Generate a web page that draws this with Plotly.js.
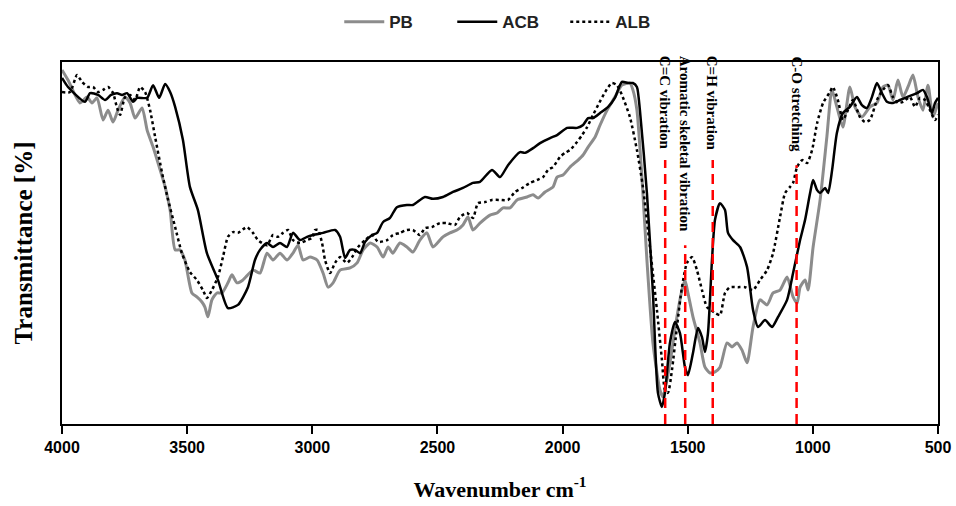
<!DOCTYPE html>
<html>
<head>
<meta charset="utf-8">
<script src="https://cdn.plot.ly/plotly-3.0.1.min.js"></script>
<style>html,body{margin:0;padding:0;background:#fff}#chart{width:956px;height:506px}</style>
</head>
<body>
<div id="chart"></div>
<script>
// ---- Data (wavenumber in cm-1, transmittance in arbitrary %) ----
const pbWavenumber = [4000,3976,3928,3900,3880,3860,3836,3816,3796,3776,3748,3728,3708,3680,3660,3636,3608,3588,3568,3548,3529,3509,3481,3461,3441,3429,3417,3401,3381,3361,3337,3321,3301,3277,3237,3209,3181,3157,3129,3101,3077,3057,3037,3009,2981,2957,2937,2917,2889,2849,2821,2797,2769,2741,2717,2697,2678,2650,2622,2598,2570,2542,2518,2478,2450,2422,2398,2378,2358,2330,2290,2262,2238,2210,2182,2142,2118,2098,2070,2038,2022,1998,1970,1938,1918,1898,1870,1850,1822,1791,1763,1731,1719,1703,1683,1663,1639,1611,1599,1583,1563,1543,1523,1511,1499,1479,1451,1431,1411,1391,1371,1343,1323,1303,1283,1263,1239,1211,1183,1159,1131,1103,1079,1063,1051,1031,1019,999,971,944,924,904,880,852,832,804,772,744,720,700,680,660,640,620,600,580,560,540,520,500];
const pbTransmittance = [97.8,95.0,88.7,90.3,88.7,90.1,84.0,86.7,83.4,86.7,90.3,88.7,84.5,87.3,81.2,76.5,70.2,65.5,59.1,48.1,48.1,45.3,36.2,35.1,33.7,32.3,29.6,34.3,36.2,36.2,39.0,41.2,39.0,39.8,42.5,41.7,47.2,45.3,47.2,45.3,47.2,49.4,45.3,46.1,45.3,41.7,37.8,39.0,42.5,43.1,44.5,48.1,50.0,48.9,46.1,48.9,47.2,50.0,48.9,47.5,50.8,52.8,48.9,51.7,52.8,53.6,55.0,57.2,53.6,55.5,57.7,58.3,59.7,59.7,61.9,62.7,63.3,62.4,64.1,65.5,68.2,68.8,71.0,72.9,74.3,76.5,79.3,82.6,86.7,90.3,93.6,94.2,92.3,86.7,68.2,45.3,22.4,9.4,7.5,12.2,20.4,29.6,37.0,39.8,36.2,29.6,22.4,15.7,14.1,14.4,15.7,22.4,21.3,22.4,20.4,16.9,26.8,34.3,32.9,36.2,37.0,40.6,35.1,33.4,37.8,39.8,37.0,48.9,61.9,79.3,92.3,87.6,82.0,93.1,87.6,84.8,87.6,88.7,93.1,93.6,89.5,95.0,90.3,93.1,96.4,90.3,86.7,93.6,84.8,88.7];

const acbWavenumber = [4000,3976,3908,3888,3856,3828,3804,3780,3760,3740,3716,3700,3660,3636,3612,3588,3568,3548,3517,3489,3457,3421,3377,3337,3297,3257,3229,3209,3181,3157,3129,3101,3077,3049,3021,2997,2957,2909,2889,2869,2849,2829,2809,2789,2761,2741,2717,2690,2662,2622,2598,2550,2518,2478,2438,2398,2358,2330,2282,2250,2218,2170,2150,2118,2090,2050,2022,1982,1942,1918,1898,1878,1850,1818,1791,1763,1739,1719,1703,1691,1663,1639,1619,1603,1591,1571,1551,1531,1511,1499,1479,1459,1443,1431,1419,1403,1391,1371,1351,1339,1319,1291,1263,1239,1219,1191,1163,1139,1103,1079,1051,1031,1011,999,983,971,951,939,923,904,880,852,824,804,784,764,744,724,704,680,652,624,584,560,544,524,512,500];
const acbTransmittance = [95.6,93.1,89.0,91.4,90.9,89.5,90.9,91.4,90.9,91.4,89.0,90.1,90.1,93.6,90.1,93.9,91.7,87.6,78.5,65.5,59.1,47.2,39.8,32.0,32.9,37.8,45.3,48.1,50.0,48.9,50.0,48.9,52.8,50.8,51.7,52.2,52.8,53.6,51.7,45.9,48.1,48.1,47.2,50.3,52.2,52.8,55.8,56.9,59.9,60.5,60.5,62.7,62.2,62.7,64.1,65.2,66.6,66.9,70.2,68.2,71.5,75.1,74.9,76.2,77.6,79.0,79.8,81.8,81.8,82.6,84.5,84.5,85.9,87.6,90.1,94.5,94.2,94.2,93.1,86.7,63.8,36.2,8.6,4.7,8.6,22.4,28.2,25.1,15.7,13.5,19.6,26.5,24.0,19.9,25.1,45.3,56.4,61.0,59.1,52.8,50.8,48.9,43.4,31.5,26.8,28.7,26.8,29.6,34.3,41.7,50.8,56.4,63.8,67.4,64.6,63.8,65.2,63.8,70.2,80.4,85.9,87.6,90.3,88.1,87.3,90.3,94.2,91.4,89.0,88.7,89.5,90.3,91.4,92.3,90.3,85.9,88.7,90.1];

const albWavenumber = [4000,3968,3940,3920,3896,3876,3856,3836,3816,3796,3780,3768,3748,3728,3708,3688,3668,3648,3628,3600,3576,3548,3521,3489,3461,3437,3421,3401,3377,3357,3337,3317,3297,3261,3237,3217,3181,3157,3137,3117,3097,3077,3049,3021,3001,2989,2977,2961,2949,2929,2909,2889,2861,2841,2817,2789,2761,2737,2701,2678,2650,2622,2598,2570,2550,2522,2490,2462,2430,2410,2382,2358,2338,2310,2282,2250,2218,2190,2162,2130,2102,2078,2058,2038,2010,1990,1970,1942,1922,1902,1878,1858,1830,1803,1783,1763,1731,1703,1679,1651,1623,1603,1591,1579,1563,1543,1523,1503,1483,1463,1443,1423,1391,1371,1351,1331,1299,1271,1239,1211,1183,1159,1131,1111,1091,1079,1063,1043,1023,1003,983,959,932,920,900,880,860,840,812,792,772,744,720,700,680,660,640,612,592,572,552,532,512,500];
const albTransmittance = [91.7,91.7,96.4,94.5,93.1,93.1,91.7,92.3,93.1,91.4,87.3,85.4,90.3,90.9,89.5,93.1,91.7,86.7,79.3,69.3,61.9,54.4,47.2,42.0,39.8,37.0,34.8,37.0,40.6,46.1,51.7,53.0,52.8,54.4,52.8,50.8,49.4,52.2,51.7,52.8,53.6,50.8,50.0,50.8,51.4,53.6,53.6,50.0,45.3,41.7,44.5,46.1,44.5,46.1,48.9,50.8,52.2,50.3,50.8,52.2,52.8,53.6,53.6,52.2,54.1,54.4,55.5,55.5,55.0,57.2,58.3,56.9,61.0,61.3,61.9,61.9,61.9,64.1,65.2,66.6,67.4,68.2,70.2,71.0,73.8,74.9,75.7,77.9,79.8,82.0,85.4,88.1,91.7,94.2,93.6,90.9,84.8,75.7,65.5,48.9,31.5,17.7,9.4,8.6,14.9,26.8,37.8,44.5,46.1,42.5,37.0,32.3,30.7,30.1,36.2,37.8,37.8,37.8,37.0,39.8,42.5,47.2,57.2,63.8,65.5,66.6,71.0,72.9,72.1,75.7,83.1,88.7,91.7,93.1,89.5,84.0,86.7,89.5,84.8,83.4,84.0,89.5,92.3,93.6,90.3,88.7,89.0,90.3,87.6,90.1,89.5,86.7,84.0,85.4];

const bandPositions = [1590, 1510, 1400, 1065];
const bandTops = [72.9, 49.4, 72.9, 71.5];
const bandLabels = ["C=C vibration", "Aromatic skeletal vibration", "C=H vibration", "C-O stretching"];
const xTickValues = [4000, 3500, 3000, 2500, 2000, 1500, 1000, 500];

// ---- Traces ----
const traces = [
  {x: pbWavenumber, y: pbTransmittance, name: "<b>PB</b>", type: "scatter", mode: "lines",
   line: {color: "#8c8c8c", width: 3, shape: "spline", smoothing: 0.6}},
  {x: acbWavenumber, y: acbTransmittance, name: "<b>ACB</b>", type: "scatter", mode: "lines",
   line: {color: "#000000", width: 2.5, shape: "spline", smoothing: 0.6}},
  {x: albWavenumber, y: albTransmittance, name: "<b>ALB</b>", type: "scatter", mode: "lines",
   line: {color: "#000000", width: 2.5, dash: "dot", shape: "spline", smoothing: 0.6}}
];
bandPositions.forEach((p, i) => {
  traces.push({x: [p, p], y: [0, bandTops[i]], type: "scatter", mode: "lines",
    showlegend: false, hoverinfo: "skip",
    line: {color: "#ff0000", width: 2.5, dash: "10px,6px"}});
});

const annotations = bandPositions.map((p, i) => ({
  x: p, y: 1, xref: "x", yref: "paper", xanchor: "center", yanchor: "top", yshift: 8,
  text: "<b>" + bandLabels[i] + "</b>", textangle: 90, showarrow: false,
  font: {family: "Liberation Serif, Times New Roman, serif", size: 15, color: "#000"}
}));

const layout = {
  width: 956, height: 506,
  margin: {l: 62, r: 18, t: 62, b: 82, autoexpand: false},
  paper_bgcolor: "#fff", plot_bgcolor: "#fff",
  showlegend: true,
  legend: {orientation: "h", x: 0.51, xanchor: "center", y: 1.11, yanchor: "middle",
    font: {family: "Liberation Sans, Arial, sans-serif", size: 17, color: "#222"},
    traceorder: "normal", itemwidth: 40, entrywidth: 58},
  xaxis: {
    range: [4000, 500], autorange: false,
    tickvals: xTickValues, ticktext: xTickValues.map(v => "<b>" + v + "</b>"),
    ticks: "outside", ticklen: 8, tickwidth: 2, tickcolor: "#000",
    showline: true, linecolor: "#000", linewidth: 2, mirror: true,
    showgrid: false, zeroline: false,
    tickfont: {family: "Liberation Sans, Arial, sans-serif", size: 16, color: "#000"},
    title: {text: "<b>Wavenumber cm<sup>-1</sup></b>", standoff: 26,
      font: {family: "Liberation Serif, Times New Roman, serif", size: 22, color: "#000"}}
  },
  yaxis: {
    range: [0, 100], autorange: false,
    showticklabels: false, ticks: "",
    showline: true, linecolor: "#000", linewidth: 2, mirror: true,
    showgrid: false, zeroline: false,
    title: {text: "<b>Transmittance [%]</b>", standoff: 20,
      font: {family: "Liberation Serif, Times New Roman, serif", size: 25, color: "#000"}}
  },
  annotations: annotations
};

Plotly.newPlot("chart", traces, layout, {staticPlot: true, displayModeBar: false});
</script>
</body>
</html>
